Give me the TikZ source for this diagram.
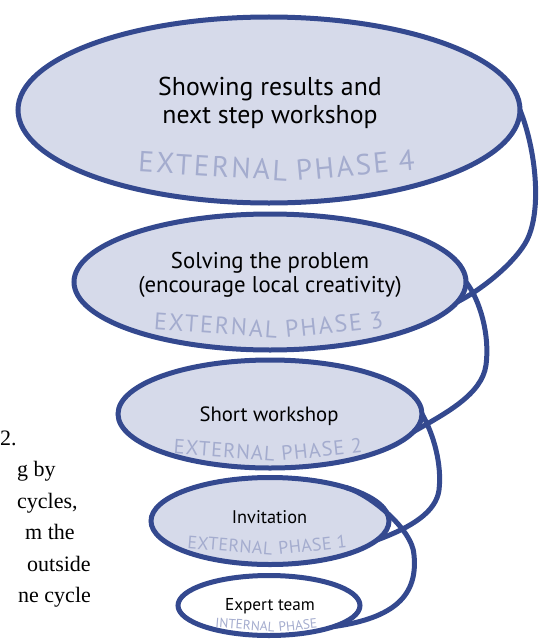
\documentclass[tikz,border=0pt]{standalone}
\usepackage{fontspec}
\setmainfont{Liberation Serif}
\newfontfamily\diagfont{PT Sans}
\newfontfamily\phasefont[LetterSpace=8]{PT Sans}
\newfontfamily\phasefontb[LetterSpace=5]{PT Sans}
\newfontfamily\phasefontc[LetterSpace=2]{PT Sans}
\usetikzlibrary{shapes.geometric}
\definecolor{ringblue}{RGB}{52,73,143}
\definecolor{ringfill}{RGB}{214,218,234}
\definecolor{phasegray}{RGB}{164,172,206}
\begin{document}
\begin{tikzpicture}[x=1pt,y=1pt,
  ring/.style={ellipse, draw=ringblue, line width=5pt, fill=ringfill, inner sep=0pt, outer sep=0pt},
  spiral/.style={draw=ringblue, line width=5pt},
  titletext/.style={anchor=base, inner sep=0pt, text=black},
  phaseL/.style={anchor=base east, inner sep=0pt, text=phasegray},
  phaseR/.style={anchor=base west, inner sep=0pt, text=phasegray},
  bodytext/.style={anchor=base west, inner sep=0pt, font=\fontsize{22}{22}\selectfont}]
\useasboundingbox (0,-642) rectangle (538,0);
% rings
\node[ring, minimum width=502, minimum height=186] (e4) at (269,-110) {};
\node[ring, minimum width=392, minimum height=136] (e3) at (270,-282) {};
\node[ring, minimum width=304, minimum height=108] (e2) at (270,-414) {};
\node[ring, minimum width=238, minimum height=87] (e1) at (270,-521) {};
\node[ring, fill=white, minimum width=182, minimum height=60] (e0) at (269,-605.5) {};
% spiral connectors
\draw[spiral] (e4.east) .. controls (536,-150) and (542,-210) .. (527,-240)
  .. controls (517,-260) and (485,-288) .. (e3.-6);
\draw[spiral] (e3.east) .. controls (480,-300) and (490,-335) .. (486,-365)
  .. controls (482,-395) and (444,-414) .. (e2.-7);
\draw[spiral] (e2.east) .. controls (434,-435) and (442,-465) .. (439,-490)
  .. controls (436,-512) and (412,-527) .. (e1.-10);
\draw[spiral] (e1.24) .. controls (370,-494) and (413,-530) .. (414,-555)
  .. controls (418,-595) and (395,-618) .. (e0.-18);
% titles
\node[titletext, font=\diagfont\fontsize{25.8}{25.8}\selectfont] (t4a) at (270,-95.5) {Showing results and};
\node[titletext, font=\diagfont\fontsize{25.8}{25.8}\selectfont] (t4b) at (270,-123) {next step workshop};
\node[titletext, font=\diagfont\fontsize{22.8}{22.8}\selectfont] (t3a) at (270,-268) {Solving the problem};
\node[titletext, font=\diagfont\fontsize{22.8}{22.8}\selectfont] (t3b) at (270,-292) {(encourage local creativity)};
\node[titletext, font=\diagfont\fontsize{20.7}{20.7}\selectfont] (t2) at (269,-421.7) {Short workshop};
\node[titletext, font=\diagfont\fontsize{18.3}{18.3}\selectfont] (t1) at (269.5,-523.3) {Invitation};
\node[titletext, font=\diagfont\fontsize{17.2}{17.2}\selectfont] (t0) at (270,-610) {Expert team};
% phase labels (two words following the ring's curve, meeting at the lowest point)
\node[phaseL, rotate=-3.5, font=\phasefont\fontsize{29}{29}\selectfont] (p4a) at (287,-181) {EXTERNAL};
\node[phaseR, rotate=5.5, font=\phasefont\fontsize{29}{29}\selectfont] (p4b) at (297,-181) {PHASE 4};
\node[phaseL, rotate=-4, font=\phasefont\fontsize{24}{24}\selectfont] (p3a) at (277,-338) {EXTERNAL};
\node[phaseR, rotate=6, font=\phasefont\fontsize{24}{24}\selectfont] (p3b) at (286,-338) {PHASE 3};
\node[phaseL, rotate=-4, font=\phasefontb\fontsize{20.5}{20.5}\selectfont] (p2a) at (274.5,-461) {EXTERNAL};
\node[phaseR, rotate=6, font=\phasefontb\fontsize{20.5}{20.5}\selectfont] (p2b) at (282,-461) {PHASE 2};
\node[phaseL, rotate=-4.5, font=\phasefontc\fontsize{18}{18}\selectfont] (p1a) at (272,-555) {EXTERNAL};
\node[phaseR, rotate=6.5, font=\phasefontc\fontsize{18}{18}\selectfont] (p1b) at (279,-555) {PHASE 1};
\node[phaseL, rotate=-4.5, font=\diagfont\fontsize{13.4}{13.4}\selectfont] (p0a) at (274.5,-632) {INTERNAL};
\node[phaseR, rotate=6, font=\diagfont\fontsize{13.4}{13.4}\selectfont] (p0b) at (279,-632) {PHASE};
% body text fragments
\node[bodytext] (b1) at (0,-445) {2.};
\node[bodytext] (b2) at (17,-476.5) {g by};
\node[bodytext] (b3) at (17,-508) {cycles,};
\node[bodytext] (b4) at (25,-539.5) {m the};
\node[bodytext] (b5) at (27,-571) {outside};
\node[bodytext] (b6) at (18,-602.5) {ne cycle};
\end{tikzpicture}
\end{document}
